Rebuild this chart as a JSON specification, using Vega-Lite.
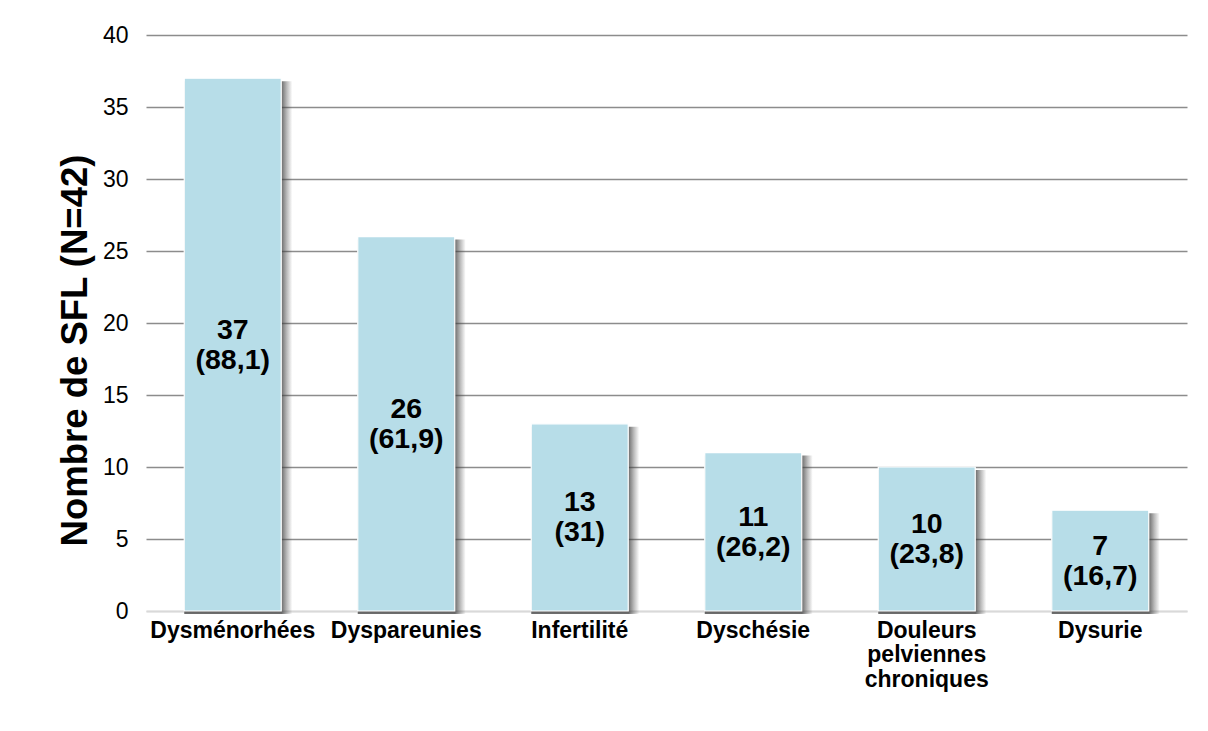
{
  "$schema": "https://vega.github.io/schema/vega-lite/v6.json",
  "width": 1041,
  "height": 576,
  "autosize": "none",
  "padding": {"left": 146, "top": 35, "right": 21, "bottom": 120},
  "background": "white",
  "config": {
    "view": {"stroke": null},
    "font": "Liberation Sans"
  },
  "data": {
    "values": [
      {"cat": "Dysménorhées", "n": 37, "pct": "(88,1)"},
      {"cat": "Dyspareunies", "n": 26, "pct": "(61,9)"},
      {"cat": "Infertilité", "n": 13, "pct": "(31)"},
      {"cat": "Dyschésie", "n": 11, "pct": "(26,2)"},
      {"cat": "Douleurs pelviennes chroniques", "n": 10, "pct": "(23,8)"},
      {"cat": "Dysurie", "n": 7, "pct": "(16,7)"}
    ]
  },
  "transform": [{"calculate": "datum.n / 2", "as": "mid"}],
  "encoding": {
    "x": {
      "field": "cat",
      "type": "nominal",
      "sort": null,
      "scale": {"paddingInner": 0.44, "paddingOuter": 0.22},
      "axis": {
        "title": null,
        "labelAngle": 0,
        "labelFontSize": 23,
        "labelFontWeight": "bold",
        "labelColor": "black",
        "labelLimit": 400,
        "labelOverlap": false,
        "labelPadding": 8,
        "labelLineHeight": 24.5,
        "labelExpr": "datum.value == 'Douleurs pelviennes chroniques' ? ['Douleurs', 'pelviennes', 'chroniques'] : datum.label",
        "ticks": false,
        "domainColor": "#d9d9d9",
        "domainWidth": 2
      }
    }
  },
  "layer": [
    {
      "mark": {
        "type": "bar",
        "size": 108,
        "xOffset": 5.5,
        "yOffset": 3,
        "color": {
          "gradient": "linear",
          "x1": 0, "x2": 1, "y1": 0, "y2": 0,
          "stops": [
            {"offset": 0, "color": "rgba(60,60,60,0.75)"},
            {"offset": 0.9, "color": "rgba(60,60,60,0.75)"},
            {"offset": 0.95, "color": "rgba(60,60,60,0.35)"},
            {"offset": 1, "color": "rgba(60,60,60,0)"}
          ]
        }
      },
      "encoding": {
        "y": {
          "field": "n",
          "type": "quantitative",
          "scale": {"domain": [0, 40]},
          "axis": {
            "title": "Nombre de SFL (N=42)",
            "titleFontSize": 36.5,
            "titleFontWeight": "bold",
            "titleColor": "black",
            "titlePadding": 8,
            "titleY": 315,
            "values": [0, 5, 10, 15, 20, 25, 30, 35, 40],
            "labelFontSize": 23,
            "labelColor": "black",
            "labelPadding": 18,
            "ticks": false,
            "domain": false,
            "grid": true,
            "gridColor": {"condition": {"test": "datum.value === 0", "value": "#d9d9d9"}, "value": "#8c8c8c"},
            "gridWidth": 1.6
          }
        }
      }
    },
    {
      "mark": {"type": "bar", "size": 97, "color": "#b7dde8", "stroke": "white", "strokeWidth": 1.2},
      "encoding": {
        "y": {"field": "n", "type": "quantitative"}
      }
    },
    {
      "mark": {"type": "text", "fontSize": 28.5, "fontWeight": "bold", "color": "black", "baseline": "middle", "dy": -15},
      "encoding": {
        "y": {"field": "mid", "type": "quantitative"},
        "text": {"field": "n", "type": "quantitative"}
      }
    },
    {
      "mark": {"type": "text", "fontSize": 28.5, "fontWeight": "bold", "color": "black", "baseline": "middle", "dy": 15},
      "encoding": {
        "y": {"field": "mid", "type": "quantitative"},
        "text": {"field": "pct", "type": "nominal"}
      }
    }
  ]
}
